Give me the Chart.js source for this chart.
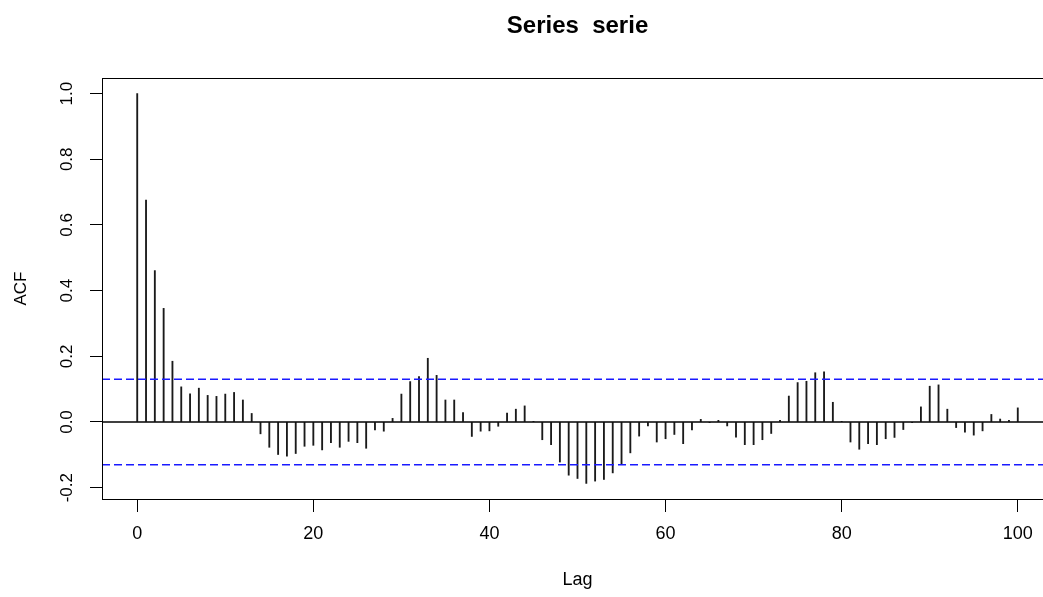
<!DOCTYPE html>
<html>
<head>
<meta charset="utf-8">
<title>Series serie</title>
<style>
  html, body { margin: 0; padding: 0; background: #ffffff; overflow: hidden; }
  canvas { display: block; }
</style>
<script src="https://cdn.jsdelivr.net/npm/chart.js@4.4.1/dist/chart.umd.min.js"></script>
</head>
<body>
<canvas id="acf" width="1060" height="597"></canvas>
<script>
// Sample autocorrelation of "serie", lags 0..100
const acfValues = [
  1.000, 0.676, 0.461, 0.346, 0.185, 0.107, 0.086, 0.103, 0.081, 0.078,
  0.085, 0.090, 0.067, 0.026, -0.036, -0.077, -0.099, -0.104, -0.096, -0.074,
  -0.071, -0.085, -0.063, -0.077, -0.059, -0.063, -0.080, -0.024, -0.028, 0.011,
  0.085, 0.123, 0.138, 0.194, 0.142, 0.067, 0.067, 0.029, -0.044, -0.028,
  -0.027, -0.013, 0.027, 0.039, 0.049, 0.002, -0.054, -0.069, -0.122, -0.162,
  -0.172, -0.187, -0.180, -0.175, -0.155, -0.127, -0.094, -0.043, -0.012, -0.061,
  -0.051, -0.038, -0.066, -0.024, 0.008, -0.001, 0.005, -0.012, -0.046, -0.069,
  -0.069, -0.054, -0.035, 0.005, 0.079, 0.120, 0.124, 0.150, 0.153, 0.060,
  0.001, -0.061, -0.083, -0.066, -0.069, -0.051, -0.047, -0.023, -0.001, 0.046,
  0.109, 0.113, 0.039, -0.017, -0.031, -0.040, -0.027, 0.023, 0.009, 0.005,
  0.043
];

// Approximate 95% confidence bound (white-noise band)
const ciBound = 0.13;

// Axis ticks and ranges
const xTickValues = [0, 20, 40, 60, 80, 100];
const yTickValues = [-0.2, 0.0, 0.2, 0.4, 0.6, 0.8, 1.0];
const xRange = [-4, 104];
const yRange = [-0.2345, 1.0475];

const titleText = 'Series  serie';
const xLabel = 'Lag';
const yLabel = 'ACF';

const FONT = "'Liberation Sans', Arial, sans-serif";

// Plot box drawn around the chart area
const frameBox = {
  id: 'frameBox',
  afterDatasetsDraw(chart) {
    const { ctx, chartArea: a } = chart;
    ctx.save();
    ctx.strokeStyle = '#000';
    ctx.lineWidth = 1;
    ctx.strokeRect(Math.round(a.left) + 0.5, Math.round(a.top) + 0.5,
                   Math.round(a.right - a.left), Math.round(a.bottom - a.top));
    ctx.restore();
  }
};

const lagPoints = acfValues.map((v, lag) => ({ x: lag, y: v }));
const hLine = (y) => [{ x: xRange[0], y }, { x: xRange[1], y }];

new Chart(document.getElementById('acf'), {
  type: 'bar',
  data: {
    datasets: [
      {
        type: 'line', data: hLine(0), borderColor: '#000', borderWidth: 1.4,
        pointRadius: 0, order: 0
      },
      {
        type: 'line', data: hLine(ciBound), borderColor: '#1a1aff', borderWidth: 1.4,
        borderDash: [8, 4], pointRadius: 0, order: 1
      },
      {
        type: 'line', data: hLine(-ciBound), borderColor: '#1a1aff', borderWidth: 1.4,
        borderDash: [8, 4], pointRadius: 0, order: 1
      },
      {
        type: 'bar', data: lagPoints, backgroundColor: '#1a1a1a', borderWidth: 0,
        barThickness: 1.2, order: 2
      }
    ]
  },
  options: {
    responsive: false,
    animation: false,
    devicePixelRatio: 1,
    layout: { padding: { left: 0, right: 7, top: 0, bottom: 0 } },
    plugins: {
      legend: { display: false },
      tooltip: { enabled: false },
      title: {
        display: true,
        text: titleText,
        fullSize: false,
        color: '#000',
        font: { family: FONT, size: 24, weight: 'bold', lineHeight: 1 },
        padding: { top: 14, bottom: 40 }
      }
    },
    scales: {
      x: {
        type: 'linear',
        offset: false,
        min: xRange[0], max: xRange[1],
        afterBuildTicks: (s) => { s.ticks = xTickValues.map(v => ({ value: v })); },
        afterFit: (s) => { s.height = 98; },
        border: { display: false },
        grid: { display: true, offset: false, drawOnChartArea: false, drawTicks: true, tickLength: 13, color: '#000', lineWidth: 1 },
        ticks: {
          color: '#000', padding: 11, maxRotation: 0, minRotation: 0,
          font: { family: FONT, size: 18 },
          callback: (v) => String(v)
        },
        title: {
          display: true, text: xLabel, color: '#000',
          font: { family: FONT, size: 18, lineHeight: 1 },
          padding: { top: 0, bottom: 8 }
        }
      },
      y: {
        type: 'linear',
        min: yRange[0], max: yRange[1],
        afterBuildTicks: (s) => { s.ticks = yTickValues.map(v => ({ value: v })); },
        afterFit: (s) => { s.width = 102; },
        border: { display: false },
        grid: { display: true, drawOnChartArea: false, drawTicks: true, tickLength: 12, color: '#000', lineWidth: 1 },
        ticks: {
          color: '#000', padding: 8, minRotation: 90, maxRotation: 90,
          crossAlign: 'center',
          font: { family: FONT, size: 17 },
          callback: (v) => Number(v).toFixed(1)
        },
        title: {
          display: true, text: yLabel, color: '#000',
          font: { family: FONT, size: 17, lineHeight: 1 },
          padding: { top: 13, bottom: 0 }
        }
      }
    }
  },
  plugins: [frameBox]
});
</script>
</body>
</html>
